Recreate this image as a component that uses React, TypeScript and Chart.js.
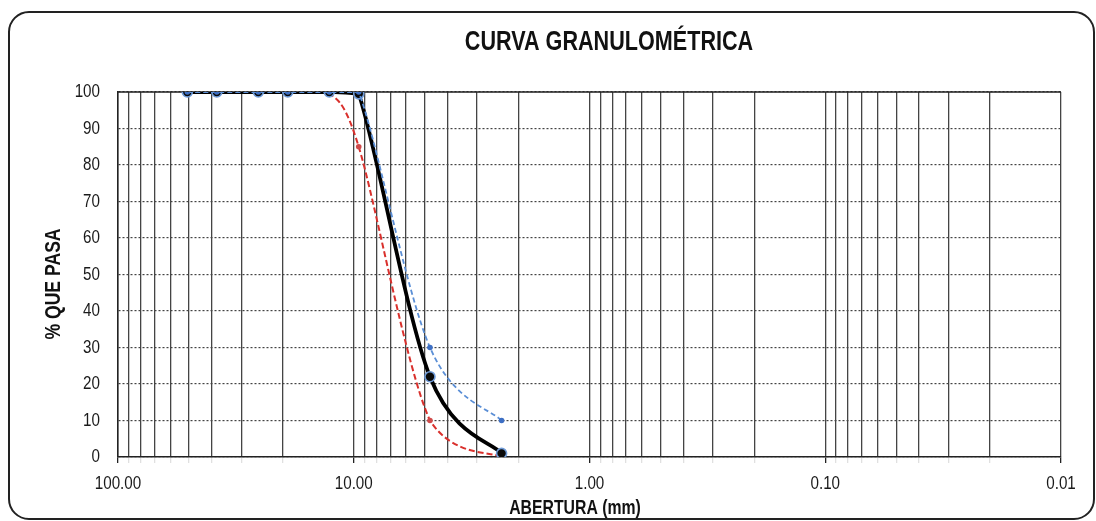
import React, { useEffect, useRef } from "react";
import { Chart, registerables } from "chart.js";

Chart.register(...registerables);

// ---- data ----
const sieveSizesMm = [50.8, 38.1, 25.4, 19.05, 12.7, 9.525, 4.75, 2.36];
const passingSample = [100, 100, 100, 100, 100, 99.5, 22, 1];
const upperLimit = [100, 100, 100, 100, 100, 100, 30, 10];
const lowerLimit: (number | null)[] = [null, null, null, null, 100, 85, 10, 0];

const xTickValues = [
  0.01, 0.02, 0.03, 0.04, 0.05, 0.06, 0.07, 0.08, 0.09,
  0.1, 0.2, 0.3, 0.4, 0.5, 0.6, 0.7, 0.8, 0.9,
  1, 2, 3, 4, 5, 6, 7, 8, 9,
  10, 20, 30, 40, 50, 60, 70, 80, 90, 100,
];
const xLabelValues = [100, 10, 1, 0.1, 0.01];
const yTickValues = [0, 10, 20, 30, 40, 50, 60, 70, 80, 90, 100];

const chartTitle = "CURVA GRANULOMÉTRICA";
const xTitle = "ABERTURA (mm)";
const yTitle = "% QUE PASA";

const FONT = '"Liberation Sans", Arial, sans-serif';

const toPoints = (vals: (number | null)[]) =>
  sieveSizesMm
    .map((x, i) => ({ x, y: vals[i] }))
    .filter((p) => p.y !== null) as { x: number; y: number }[];

const isMajor = (v: number) => {
  const l = Math.log10(v);
  return Math.abs(l - Math.round(l)) < 1e-9;
};

// draw condensed text (Arial Narrow look) by scaling horizontally
function narrowText(ctx: any, text: string, x: number, y: number, font: string, sx: number, align: string) {
  ctx.save();
  ctx.font = font;
  ctx.textAlign = align;
  ctx.textBaseline = "middle";
  ctx.translate(x, y);
  ctx.scale(sx, 1);
  ctx.fillText(text, 0, 0);
  ctx.restore();
}

const decorPlugin = {
  id: "decor",
  beforeDraw(chart: any) {
    const { ctx } = chart;
    ctx.save();
    ctx.strokeStyle = "#222";
    ctx.lineWidth = 2;
    ctx.beginPath();
    ctx.roundRect(9, 12, 1085, 507, 20);
    ctx.stroke();
    ctx.restore();
  },
  beforeDatasetsDraw(chart: any) {
    const { ctx, chartArea } = chart;
    ctx.save();
    ctx.strokeStyle = "#222";
    ctx.lineWidth = 1.5;
    ctx.beginPath();
    ctx.moveTo(chartArea.left, chartArea.top);
    ctx.lineTo(chartArea.right, chartArea.top);
    ctx.stroke();
    ctx.restore();
  },
  beforeDatasetDraw(chart: any, args: any) {
    // Excel-like smoothing (uniform Catmull-Rom) on the library's own point positions
    const meta = args.meta;
    const line = meta.dataset;
    const pts = meta.data;
    const { left, right, top, bottom } = chart.chartArea;
    const clampX = (v: number) => Math.min(right, Math.max(left, v));
    const clampY = (v: number) => Math.min(bottom, Math.max(top, v));
    for (let i = 0; i < pts.length; i++) {
      const p = pts[i];
      const prev = pts[i - 1] || p;
      const next = pts[i + 1] || p;
      const dx = (next.x - prev.x) / 6;
      const dy = (next.y - prev.y) / 6;
      p.cp1x = clampX(p.x - dx);
      p.cp1y = clampY(p.y - dy);
      p.cp2x = clampX(p.x + dx);
      p.cp2y = clampY(p.y + dy);
    }
    line._pointsUpdated = true;
    line._path = undefined;
  },
  afterDraw(chart: any) {
    const { ctx } = chart;
    const xs = chart.scales.x;
    const ys = chart.scales.y;
    ctx.save();
    ctx.fillStyle = "#111";
    narrowText(ctx, chartTitle, 609, 43, `bold 27px ${FONT}`, 0.8, "center");
    narrowText(ctx, xTitle, 575, 508, `bold 20px ${FONT}`, 0.79, "center");
    ctx.save();
    ctx.translate(54, 284);
    ctx.rotate(-Math.PI / 2);
    narrowText(ctx, yTitle, 0, 0, `bold 22px ${FONT}`, 0.8, "center");
    ctx.restore();
    ctx.fillStyle = "#1a1a1a";
    for (const v of xLabelValues) {
      narrowText(ctx, v.toFixed(2), xs.getPixelForValue(v), 484, `19px ${FONT}`, 0.8, "center");
    }
    for (const v of yTickValues) {
      narrowText(ctx, String(v), 100, ys.getPixelForValue(v), `19px ${FONT}`, 0.8, "right");
    }
    ctx.restore();
  },
};

export default function App() {
  const ref = useRef<HTMLCanvasElement>(null);
  useEffect(() => {
    if (!ref.current) return;
    const chart = new Chart(ref.current, {
      type: "line",
      data: {
        datasets: [
          {
            label: "Límite superior",
            data: toPoints(upperLimit),
            borderColor: "#5b8fd6",
            backgroundColor: "#3d6fc4",
            borderWidth: 1.8,
            borderDash: [5, 3],
            pointRadius: 2.8,
            pointBorderWidth: 0,
            tension: 0.4,
          },
          {
            label: "Muestra",
            data: toPoints(passingSample),
            borderColor: "#000",
            backgroundColor: "#0a0a0a",
            pointBorderColor: "#6f9bd8",
            borderWidth: 3.8,
            pointRadius: 5,
            pointBorderWidth: 1.6,
            tension: 0.4,
          },
          {
            label: "Límite inferior",
            data: toPoints(lowerLimit),
            borderColor: "#d9302c",
            backgroundColor: "#d04a4a",
            borderWidth: 2,
            borderDash: [6, 3],
            pointRadius: 2.8,
            pointBorderWidth: 0,
            tension: 0.4,
          },
        ],
      },
      options: {
        responsive: false,
        animation: false,
        layout: { padding: { left: 0, right: 35, top: 92, bottom: 0 } },
        plugins: {
          legend: { display: false },
          title: { display: false },
          tooltip: { enabled: false },
        },
        scales: {
          x: {
            type: "logarithmic",
            min: 0.01,
            max: 100,
            reverse: true,
            afterBuildTicks: (scale: any) => {
              scale.ticks = xTickValues.map((v) => ({ value: v, major: isMajor(v) }));
            },
            afterFit: (scale: any) => {
              scale.height = 64;
            },
            ticks: { display: false, autoSkip: false },
            grid: {
              color: "#444",
              lineWidth: 1.3,
              tickLength: 6,
              tickColor: (c: any) => (c.tick && isMajor(c.tick.value) ? "#222" : "rgba(0,0,0,0.12)"),
            },
            border: { display: true, color: "#222", width: 1.5 },
          },
          y: {
            type: "linear",
            min: 0,
            max: 100,
            afterBuildTicks: (scale: any) => {
              scale.ticks = yTickValues.map((v) => ({ value: v }));
            },
            afterFit: (scale: any) => {
              scale.width = 118;
            },
            ticks: { display: false },
            grid: {
              color: "#444",
              lineWidth: 1.2,
              drawTicks: false,
            },
            border: { display: true, color: "#222", width: 1.5, dash: [2, 2] },
          },
        },
      },
      plugins: [decorPlugin],
    } as any);
    return () => chart.destroy();
  }, []);
  return (
    <div style={{ position: "fixed", left: 0, top: 0, width: 1096, height: 521 }}>
      <canvas ref={ref} width={1096} height={521} />
    </div>
  );
}
